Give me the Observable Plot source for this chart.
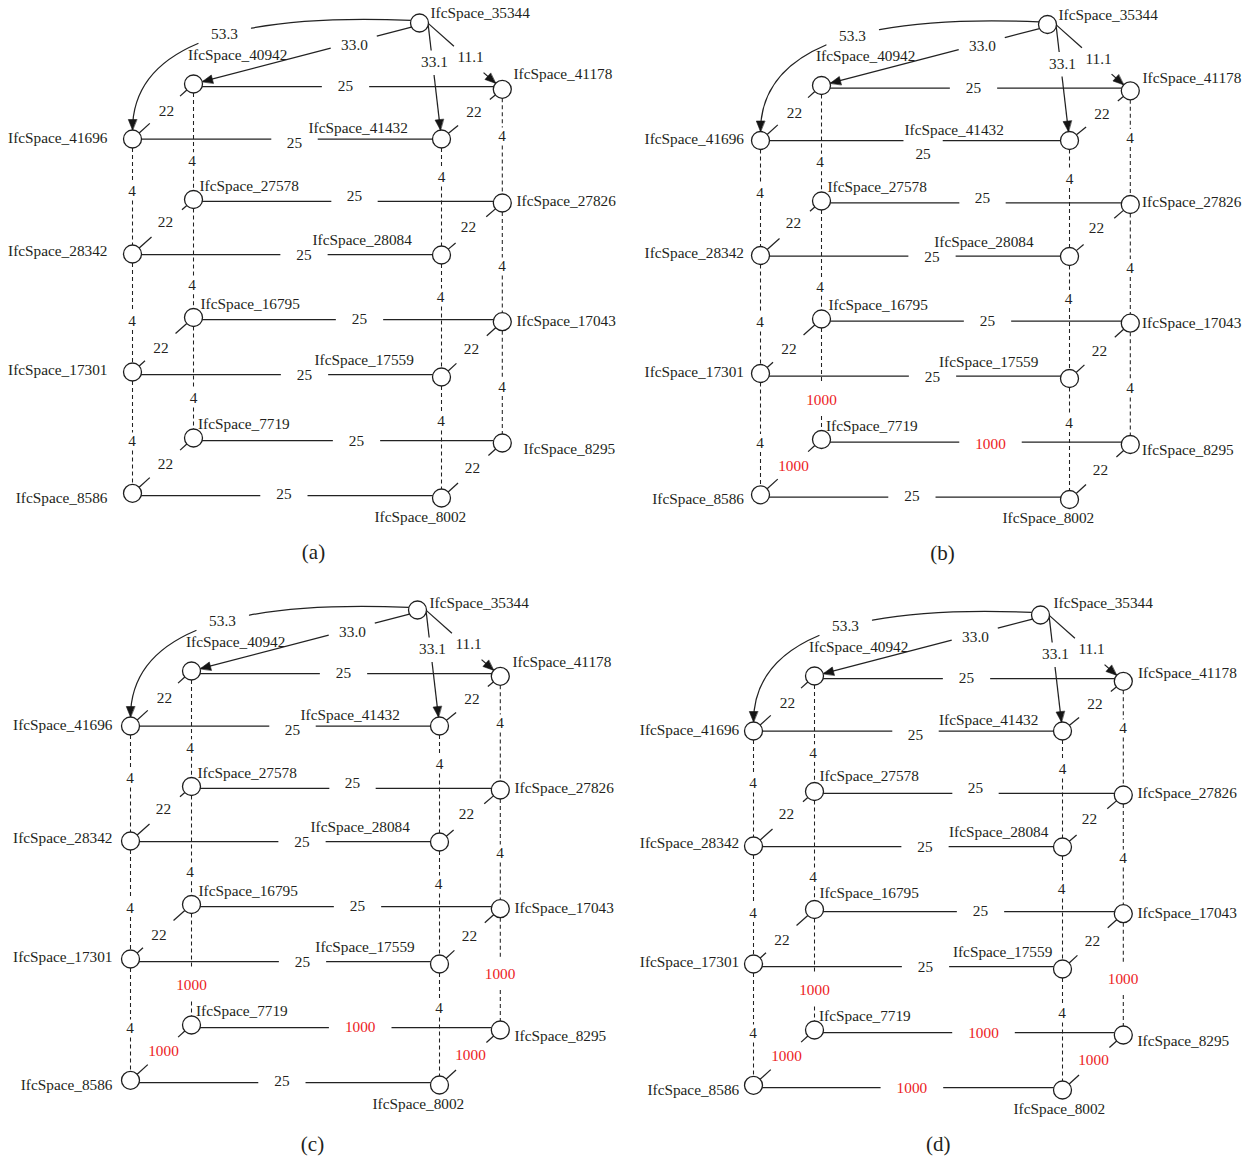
<!DOCTYPE html>
<html>
<head>
<meta charset="utf-8">
<script src="https://cdn.jsdelivr.net/npm/d3@7"></script>
<script src="https://cdn.jsdelivr.net/npm/@observablehq/plot@0.6"></script>
<style>
  html, body { margin: 0; padding: 0; background: #fff; }
  #chart svg { display: block; }
</style>
</head>
<body>
<div id="chart"></div>
<script>
// ---------------- DATA ----------------
const spaceIds = ["35344","40942","41178","41696","41432","27578","27826","28342","28084",
                  "16795","17043","17301","17559","7719","8295","8586","8002"];

const edgeFrom = ["35344","35344","35344","35344",
  "40942","41696","27578","28342","16795","17301","7719","8586",
  "40942","41178","27578","27826","16795","17043","7719","8295",
  "41696","40942","41432","41178","28342","27578","28084","27826","17301","16795","17559","17043"];
const edgeTo = ["41696","40942","41432","41178",
  "41178","41432","27826","28084","17043","17559","8295","8002",
  "41696","41432","28342","28084","17301","17559","8586","8002",
  "28342","27578","28084","27826","17301","16795","17559","17043","8586","7719","8002","8295"];

const weightsA = ["53.3","33.0","33.1","11.1",
  "25","25","25","25","25","25","25","25",
  "22","22","22","22","22","22","22","22",
  "4","4","4","4","4","4","4","4","4","4","4","4"];
const weightsB = ["53.3","33.0","33.1","11.1",
  "25","25","25","25","25","25","1000","25",
  "22","22","22","22","22","22","1000","22",
  "4","4","4","4","4","4","4","4","4","1000","4","4"];
const weightsC = ["53.3","33.0","33.1","11.1",
  "25","25","25","25","25","25","1000","25",
  "22","22","22","22","22","22","1000","1000",
  "4","4","4","4","4","4","4","4","4","1000","4","1000"];
const weightsD = ["53.3","33.0","33.1","11.1",
  "25","25","25","25","25","25","1000","1000",
  "22","22","22","22","22","22","1000","1000",
  "4","4","4","4","4","4","4","4","4","1000","4","1000"];

const panelLabels = ["(a)","(b)","(c)","(d)"];
const panelWeights = [weightsA, weightsB, weightsC, weightsD];

// ---------------- LAYOUT (graph drawing positions, panel-local px) ----------------
const nodeXY = {
  "35344":[419,22.5], "40942":[193,83.5], "41178":[501.8,88.8],
  "41696":[132,138.5], "41432":[441,138.5],
  "27578":[193,199], "27826":[501.8,202.5], "28342":[132,253.5], "28084":[441,254.5],
  "16795":[193,317], "17043":[501.8,321.2], "17301":[132,371.5], "17559":[441,376.5],
  "7719":[193,437.5], "8295":[501.8,442.5], "8586":[132,492.8], "8002":[441,497.5]
};
const nodeLabelXY = {
  "35344":[430,13,"start"], "40942":[187.5,54.5,"start"], "41178":[514,75,"start"],
  "41696":[113,137.5,"end"], "41432":[305,128,"start"],
  "27578":[199,185.5,"start"], "27826":[516,200.5,"start"], "28342":[113,251,"end"], "28084":[312,240,"start"],
  "16795":[200,303.5,"start"], "17043":[516,321,"start"], "17301":[113,370,"end"], "17559":[314,360,"start"],
  "7719":[197.5,424,"start"], "8295":[516,448.5,"start"], "8586":[113,497.5,"end"], "8002":[374,516.5,"start"]
};
const nodeLabelOverrides = [
  {"41696":[107],"28342":[107],"17301":[107],"8586":[107],"8295":[523],"41432":[308],"41178":[513,74]},
  {"41696":[115.5],"28342":[115.5],"17301":[115.5],"8586":[115.5],"41432":[276],"41178":[514,76],
   "27826":[513.5],"17043":[513.5],"8295":[513.5],"28084":[305.7],"17559":[310.5]},
  {"41696":[114],"28342":[114],"17301":[114],"8586":[114],"41432":[302],"35344":[431,15.5],"17559":[316.8]},
  {"41696":[117.7],"28342":[117.7],"17301":[117.7],"8586":[117.7],"41432":[317.5],"28084":[327.5],
   "17559":[331.4],"8002":[392],"41178":[516.5,81],"35344":[432,11],"27578":[198,184],"16795":[198,301]}
];
const edgeLabelXY = [
  [224,34],[354,44.5],[434,62],[470,57],
  [345,86],[294,143],[354,196],[303.5,255],[359,319],[304,375],[356,440.7],[283.4,494],
  [166,111],[473.5,112],[165,221.5],[468,226.5],[160.5,347.5],[471,349],[165,464],[472,468],
  [131.5,191],[191.5,160.5],[441,177],[501.6,136],[131.5,320.5],[191.5,285],[440,297],[501.6,266],
  [131.5,441],[193,398],[440.5,421],[501.6,386.5]
];
const edgeLabelOverrides = [
  {},
  {5:[294.6,151.7], 10:[362,442]},
  {10:[361.7,440]},
  {10:[362,440.3], 11:[290.4,495.3]}
];
const panelOffsets = [[0,0],[628,1.5],[-2,587],[621,592]];
const captionXY = [[313,552],[314,551.5],[314,556.3],[316.7,551.3]];

// ---------------- STYLE ----------------
const R_NODE = 9;
const FONT = "Liberation Serif, Times New Roman, serif";
const FS = 15.3;
const INK = "#231f20";
const LINE = "#222222";
const RED = "#ec1c24";
const portAngle = {0:197, 1:153, 2:14, 3:4};       // where the top edges leave IfcSpace_35344
const topGapR = [28, 24, 12.5, 20];
const HEAD_L = 10.5, HEAD_W = 4.2;

// ---------------- GEOMETRY HELPERS ----------------
const norm = (dx, dy) => { const L = Math.hypot(dx, dy); return [dx / L, dy / L, L]; };

function straightSegs(p1, p2, lab, R) {
  const [ux, uy, L] = norm(p2[0] - p1[0], p2[1] - p1[1]);
  const cx = lab[0] - p1[0], cy = lab[1] - p1[1];
  const s = cx * ux + cy * uy, d = Math.abs(cx * uy - cy * ux);
  if (d >= R) return [[p1, p2]];
  const h = Math.sqrt(R * R - d * d);
  const a = Math.max(0, s - h), b = Math.min(L, s + h);
  const out = [];
  if (a > 0) out.push([p1, [p1[0] + ux * a, p1[1] + uy * a]]);
  if (b < L) out.push([[p1[0] + ux * b, p1[1] + uy * b], p2]);
  return out;
}
function bez(P, t) {
  const m = 1 - t;
  return [m*m*m*P[0][0] + 3*m*m*t*P[1][0] + 3*m*t*t*P[2][0] + t*t*t*P[3][0],
          m*m*m*P[0][1] + 3*m*m*t*P[1][1] + 3*m*t*t*P[2][1] + t*t*t*P[3][1]];
}
function splitBez(P, t) {
  const lerp = (a, b) => [a[0] + (b[0] - a[0]) * t, a[1] + (b[1] - a[1]) * t];
  const p01 = lerp(P[0], P[1]), p12 = lerp(P[1], P[2]), p23 = lerp(P[2], P[3]);
  const p012 = lerp(p01, p12), p123 = lerp(p12, p23), p = lerp(p012, p123);
  return [[P[0], p01, p012, p], [p, p123, p23, P[3]]];
}
// custom d3 curve: four points -> one cubic Bézier
function bezierCurve(context) {
  let pts = [];
  return {
    areaStart() {}, areaEnd() {},
    lineStart() { pts = []; },
    point(x, y) { pts.push([+x, +y]); },
    lineEnd() {
      if (pts.length < 4) return;
      context.moveTo(pts[0][0], pts[0][1]);
      context.bezierCurveTo(pts[1][0], pts[1][1], pts[2][0], pts[2][1], pts[3][0], pts[3][1]);
    }
  };
}

// ---------------- BUILD MARK DATA ----------------
const solid = [], dashed = [], curvePts = [], headPts = [], dots = [];
const labStart = [], labEnd = [], eBlack = [], eRed = [], caps = [];
let serial = 0;

panelLabels.forEach((cap, k) => {
  const [ox, oy] = panelOffsets[k];
  const weights = panelWeights[k];
  const pos = id => [nodeXY[id][0] + ox, nodeXY[id][1] + oy];

  spaceIds.forEach(id => {
    const [x, y] = pos(id);
    dots.push({x, y});
    const base = nodeLabelXY[id], ov = nodeLabelOverrides[k][id] || [];
    const lx = (ov[0] ?? base[0]) + ox, ly = (ov[1] ?? base[1]) + oy;
    (base[2] === "end" ? labEnd : labStart).push({x: lx, y: ly, text: "IfcSpace_" + id});
  });

  edgeFrom.forEach((s, i) => {
    const t = edgeTo[i], w = weights[i];
    const lb = edgeLabelOverrides[k][i] || edgeLabelXY[i];
    const lab = [lb[0] + ox, lb[1] + oy];
    (w === "1000" ? eRed : eBlack).push({x: lab[0], y: lab[1], text: w});

    const A = pos(s), B = pos(t);
    const addHead = (tip, ux, uy) => {
      const id = "h" + (serial++);
      const bx = tip[0] - ux * HEAD_L, by = tip[1] - uy * HEAD_L;
      headPts.push({id, x: tip[0], y: tip[1]},
                   {id, x: bx - uy * HEAD_W, y: by + ux * HEAD_W},
                   {id, x: bx + uy * HEAD_W, y: by - ux * HEAD_W});
    };

    if (i < 4) {
      const ang = portAngle[i] * Math.PI / 180;
      const p0 = [A[0] + R_NODE * Math.cos(ang), A[1] + R_NODE * Math.sin(ang)];
      if (i === 0) {
        // curved edge: leaves to the left, enters the target from above
        const p3 = [B[0], B[1] - R_NODE];
        const dx = p3[0] - p0[0], dy = p3[1] - p0[1];
        const P = [p0, [p0[0] + 0.68 * dx, p0[1] - 0.073 * dy], [p3[0], p0[1] + 0.274 * dy], p3];
        let t1 = null, t2 = null;
        for (let j = 0; j <= 600; j++) {
          const tt = j / 600, q = bez(P, tt);
          if (Math.hypot(q[0] - lab[0], q[1] - lab[1]) < topGapR[0]) { if (t1 === null) t1 = tt; t2 = tt; }
        }
        const pieces = t1 === null ? [P] : [splitBez(P, t1)[0], splitBez(P, t2)[1]];
        pieces.forEach(pc => { const id = "c" + (serial++); pc.forEach(q => curvePts.push({id, x: q[0], y: q[1]})); });
        const [ux, uy] = norm(p3[0] - P[2][0], p3[1] - P[2][1]);
        addHead(p3, ux, uy);
      } else {
        const [ux, uy] = norm(B[0] - p0[0], B[1] - p0[1]);
        const p2 = [B[0] - ux * R_NODE, B[1] - uy * R_NODE];
        straightSegs(p0, p2, lab, topGapR[i]).forEach(sg => solid.push({x1: sg[0][0], y1: sg[0][1], x2: sg[1][0], y2: sg[1][1]}));
        addHead(p2, ux, uy);
      }
      return;
    }
    const vertical = Math.abs(B[0] - A[0]) < 5;
    const diagonal = !vertical && Math.abs(B[1] - A[1]) > 25;
    let p1, p2;
    if (!vertical && !diagonal) {
      // horizontal edges are drawn level, at the mean height of their two nodes
      const ym = (A[1] + B[1]) / 2;
      p1 = [A[0] + R_NODE * 0.95, ym];
      p2 = [B[0] - R_NODE * 0.95, ym];
    } else {
      const [ux, uy] = norm(B[0] - A[0], B[1] - A[1]);
      p1 = [A[0] + ux * R_NODE, A[1] + uy * R_NODE];
      p2 = [B[0] - ux * R_NODE, B[1] - uy * R_NODE];
    }
    const textW = w.length * 0.5 * FS;
    const R = vertical ? (w.length === 1 ? 9 : 16) : diagonal ? 20.5 : (textW + 32) / 2;
    const target = vertical ? dashed : solid;
    straightSegs(p1, p2, lab, R).forEach(sg => target.push({x1: sg[0][0], y1: sg[0][1], x2: sg[1][0], y2: sg[1][1]}));
  });

  caps.push({x: captionXY[k][0] + ox, y: captionXY[k][1] + oy, text: cap});
});

// ---------------- PLOT ----------------
const W = 1249, H = 1159;
const chart = Plot.plot({
  width: W, height: H,
  margin: 0, marginTop: 0, marginRight: 0, marginBottom: 0, marginLeft: 0,
  x: {domain: [0, W], range: [0, W], axis: null},
  y: {domain: [0, H], range: [0, H], axis: null},
  style: {fontFamily: FONT, background: "white"},
  marks: [
    Plot.link(solid, {x1: "x1", y1: "y1", x2: "x2", y2: "y2", stroke: LINE, strokeWidth: 1.25}),
    Plot.link(dashed, {x1: "x1", y1: "y1", x2: "x2", y2: "y2", stroke: LINE, strokeWidth: 1.05, strokeDasharray: "4,3"}),
    Plot.line(curvePts, {x: "x", y: "y", z: "id", curve: bezierCurve, stroke: LINE, strokeWidth: 1.25, fill: "none"}),
    Plot.line(headPts, {x: "x", y: "y", z: "id", curve: "linear-closed", fill: "#151515", stroke: "#151515", strokeWidth: 0.6}),
    Plot.dot(dots, {x: "x", y: "y", r: R_NODE, fill: "white", stroke: "#1e1e1e", strokeWidth: 1.3}),
    Plot.text(labStart, {x: "x", y: "y", text: "text", textAnchor: "start", fontSize: FS, fontFamily: FONT, fill: INK}),
    Plot.text(labEnd, {x: "x", y: "y", text: "text", textAnchor: "end", fontSize: FS, fontFamily: FONT, fill: INK}),
    Plot.text(eBlack, {x: "x", y: "y", text: "text", fontSize: FS, fontFamily: FONT, fill: INK}),
    Plot.text(eRed, {x: "x", y: "y", text: "text", fontSize: FS, fontFamily: FONT, fill: RED}),
    Plot.text(caps, {x: "x", y: "y", text: "text", fontSize: 21, fontFamily: FONT, fill: INK})
  ]
});
document.getElementById("chart").appendChild(chart);
</script>
</body>
</html>
